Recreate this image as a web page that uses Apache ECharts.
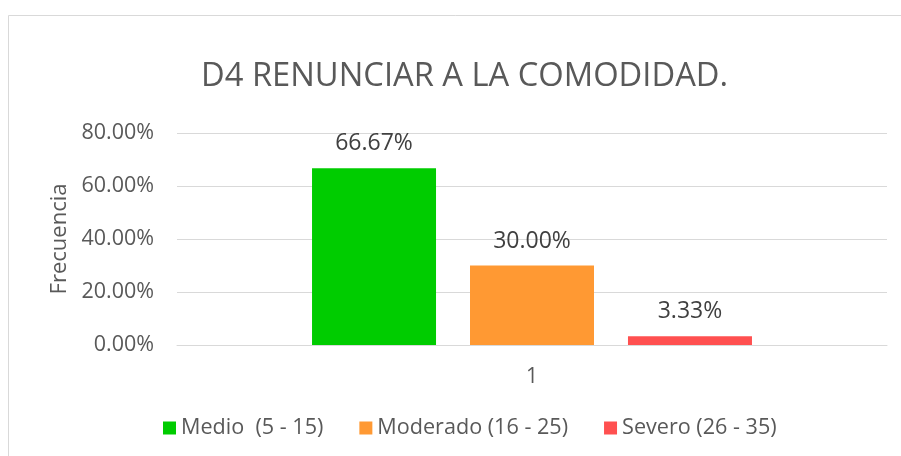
<!DOCTYPE html>
<html>
<head>
<meta charset="utf-8">
<script src="https://cdn.jsdelivr.net/npm/echarts@6/dist/echarts.min.js"></script>
<style>
  html, body { margin: 0; padding: 0; background: #fff; }
  #chartBox { width: 901px; height: 456px; }
</style>
</head>
<body>
<div id="chartBox"></div>
<script>
// datos
var categories = ['1'];
var seriesNames = ['Medio  (5 - 15)', 'Moderado (16 - 25)', 'Severo (26 - 35)'];
var seriesValues = [0.6667, 0.30, 0.0333];
var seriesColors = ['#00CC00', '#FF9933', '#FF5050'];
var yTicks = [0, 0.2, 0.4, 0.6, 0.8];

var fontFam = '"Open Sans", sans-serif';

var series = seriesNames.map(function (name, i) {
  return {
    name: name,
    type: 'bar',
    barWidth: 124,
    barGap: '27.4%',
    itemStyle: { color: seriesColors[i] },
    label: {
      show: true,
      position: 'top',
      distance: 13,
      color: '#404040',
      fontFamily: fontFam,
      fontSize: 23,
      formatter: function (p) { return (p.value * 100).toFixed(2) + '%'; }
    },
    data: [seriesValues[i]]
  };
});

var option = {
  animation: false,
  backgroundColor: '#fff',
  textStyle: { fontFamily: fontFam },
  graphic: [{
    type: 'rect',
    shape: { x: 8.5, y: 15.5, width: 1000, height: 1000 },
    style: { fill: 'none', stroke: '#d9d9d9', lineWidth: 1 },
    silent: true
  }],
  title: {
    text: 'D4 RENUNCIAR A LA COMODIDAD.',
    left: 196,
    top: 55,
    textStyle: { fontFamily: fontFam, fontSize: 32.7, fontWeight: 'normal', color: '#595959' }
  },
  legend: {
    bottom: 12,
    left: 158,
    itemWidth: 13,
    itemHeight: 13,
    itemGap: 36,
    icon: 'rect',
    textStyle: { fontFamily: fontFam, fontSize: 21.6, color: '#595959' },
    data: seriesNames
  },
  grid: { left: 177, right: 14, top: 133, bottom: 111 },
  xAxis: {
    type: 'category',
    data: categories,
    axisLine: { lineStyle: { color: '#d9d9d9' } },
    axisTick: { show: false },
    axisLabel: { color: '#595959', fontSize: 21, margin: 22, fontFamily: fontFam }
  },
  yAxis: {
    type: 'value',
    min: yTicks[0],
    max: yTicks[yTicks.length - 1],
    interval: 0.2,
    name: 'Frecuencia',
    nameLocation: 'middle',
    nameGap: 102,
    nameTextStyle: { color: '#595959', fontSize: 22, fontFamily: fontFam },
    axisLine: { show: false },
    axisTick: { show: false },
    splitLine: { lineStyle: { color: '#d9d9d9' } },
    axisLabel: {
      color: '#595959',
      fontSize: 21.5,
      margin: 23,
      fontFamily: fontFam,
      formatter: function (v) { return (v * 100).toFixed(2) + '%'; }
    }
  },
  series: series
};

var chart = echarts.init(document.getElementById('chartBox'));
chart.setOption(option);
</script>
</body>
</html>
